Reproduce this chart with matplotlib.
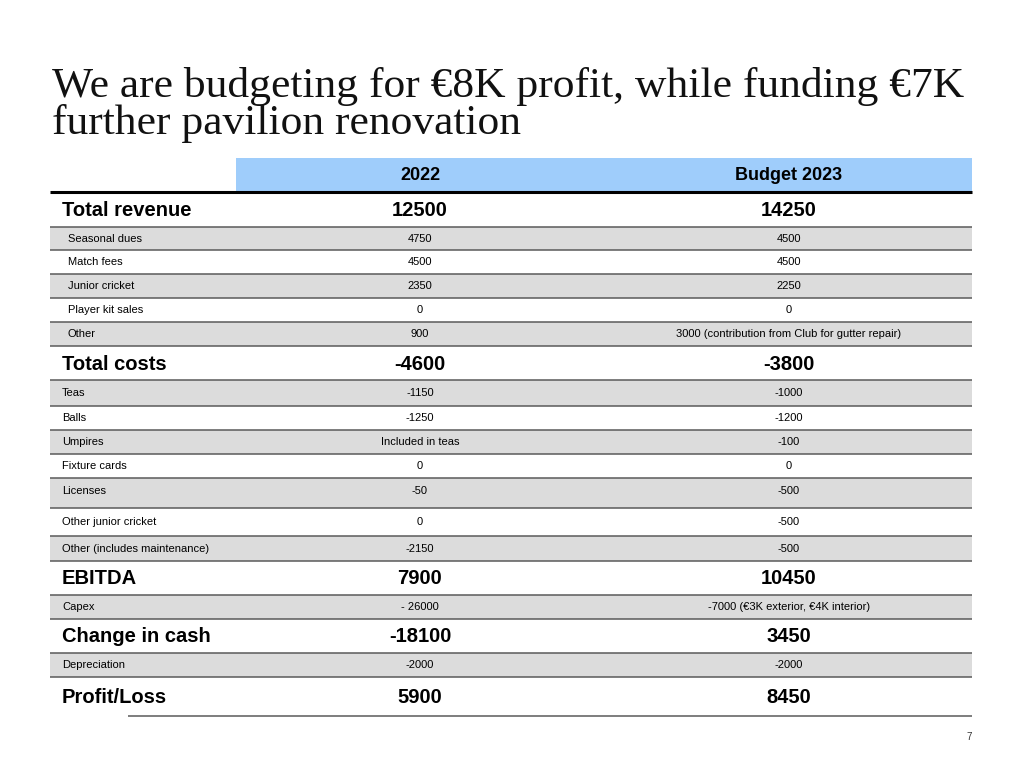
import matplotlib.pyplot as plt

# Table data
labels = ["Total revenue", "Seasonal dues", "Match fees", "Junior cricket", "Player kit sales", "Other",
          "Total costs", "Teas", "Balls", "Umpires", "Fixture cards", "Licenses",
          "Other junior cricket", "Other (includes maintenance)",
          "EBITDA", "Capex", "Change in cash", "Depreciation", "Profit/Loss"]
col_2022 = ["12500", "4750", "4500", "2350", "0", "900",
            "-4600", "-1150", "-1250", "Included in teas", "0", "-50", "0", "-2150",
            "7900", "- 26000", "-18100", "-2000", "5900"]
col_2023 = ["14250", "4500", "4500", "2250", "0", "3000 (contribution from Club for gutter repair)",
            "-3800", "-1000", "-1200", "-100", "0", "-500", "-500", "-500",
            "10450", "-7000 (€3K exterior, €4K interior)", "3450", "-2000", "8450"]
# 'total' = bold summary row, 'rev' = indented revenue item, 'item' = other line item
row_kind = ["total", "rev", "rev", "rev", "rev", "rev",
            "total", "item", "item", "item", "item", "item", "item", "item",
            "total", "item", "total", "item", "total"]
headers = ["2022", "Budget 2023"]

title_lines = ["We are budgeting for €8K profit, while funding €7K",
               "further pavilion renovation"]

# Layout (pixels)
edges = [192, 227, 250, 274, 298, 322, 346, 380, 406, 430, 454, 478, 508, 536,
         561, 595, 619, 653, 677, 716]
x_left, x_right = 50, 972
x_col = [420, 789]
gray = "#dcdcdc"
blue = "#9fcdfb"
line_col = "#5a5a5a"

plt.rcParams["font.family"] = ["Liberation Sans", "DejaVu Sans"]

fig = plt.figure(figsize=(10.24, 7.68), dpi=100)
ax = fig.add_axes([0, 0, 1, 1])
ax.set_xlim(0, 1024)
ax.set_ylim(768, 0)
ax.axis("off")

for yb, line in zip([97, 134], title_lines):
    ax.text(52, yb, line, fontsize=31.3, family=["Liberation Serif", "DejaVu Serif"],
            va="baseline", ha="left", color="#111111")

# header band
ax.fill_between([236, x_right], 158, 191, color=blue, lw=0)
for xc, h in zip(x_col, headers):
    ax.text(xc, 176, h, fontsize=13, fontweight="bold", ha="center", va="center")

# row shading
k = 0
for i, kind in enumerate(row_kind):
    if kind == "total":
        k = 0
        continue
    if k % 2 == 0:
        ax.fill_between([x_left, x_right], edges[i], edges[i + 1], color=gray, lw=0)
    k += 1

# row lines
for j, y in enumerate(edges):
    if j == 0:
        ax.plot([x_left, x_right], [y, y], color="black", lw=2.2, solid_capstyle="butt")
    elif j == len(edges) - 1:
        ax.plot([128, x_right], [y, y], color=line_col, lw=1.1, solid_capstyle="butt")
    else:
        ax.plot([x_left, x_right], [y, y], color=line_col, lw=1.1, solid_capstyle="butt")

# text
for i, kind in enumerate(row_kind):
    y = (edges[i] + edges[i + 1]) / 2
    if labels[i] == "Licenses":
        y = edges[i] + 13
    if kind == "total":
        fs, fw, xl = 14.5, "bold", 62
        y += 1
    elif kind == "rev":
        fs, fw, xl = 8, "normal", 68
    else:
        fs, fw, xl = 8, "normal", 62
    ax.text(xl, y, labels[i], fontsize=fs, fontweight=fw, ha="left", va="center")
    ax.text(x_col[0], y, col_2022[i], fontsize=fs, fontweight=fw, ha="center", va="center")
    ax.text(x_col[1], y, col_2023[i], fontsize=fs, fontweight=fw, ha="center", va="center")

ax.text(972, 737, "7", fontsize=7, ha="right", va="center", color="#333333")

fig.savefig("out.png", dpi=100)
